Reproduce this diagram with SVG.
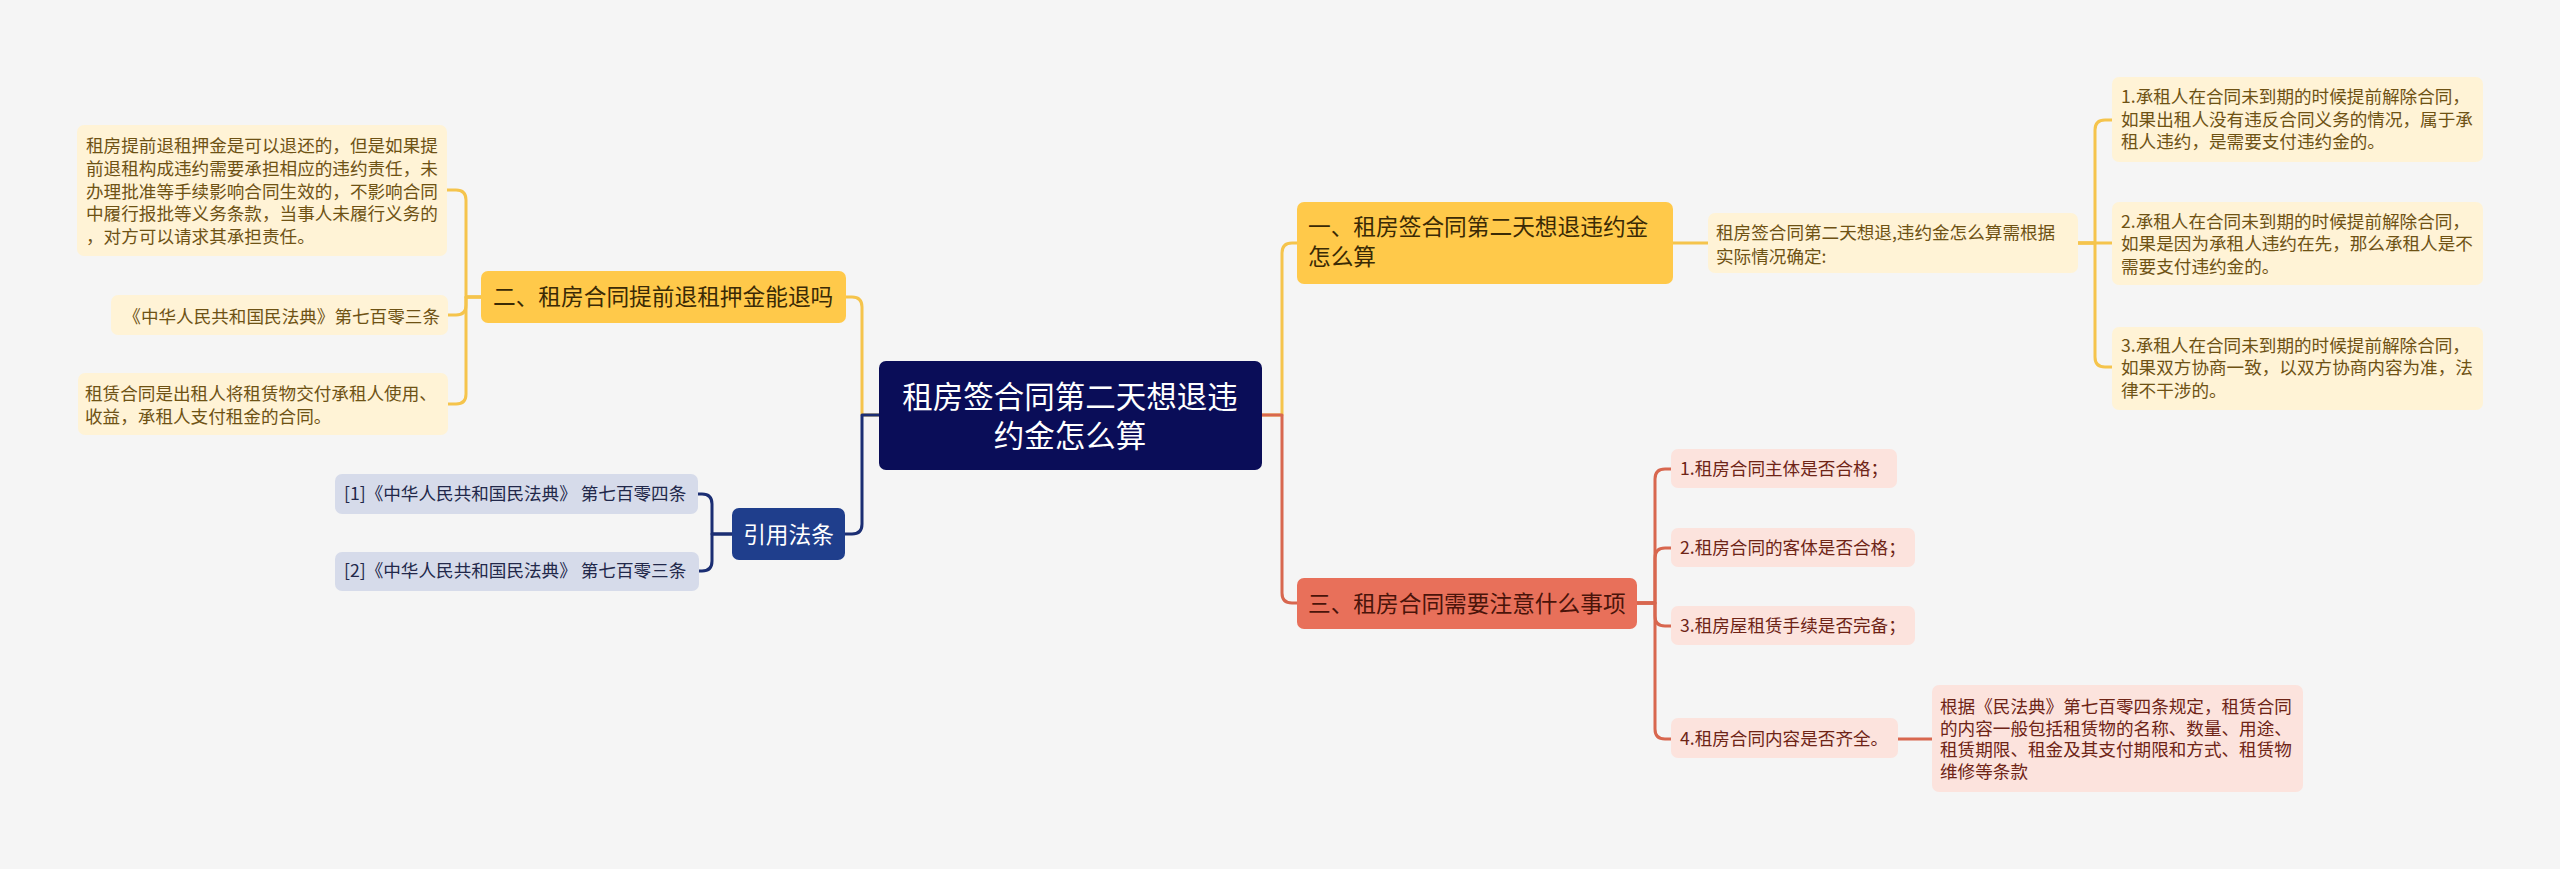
<svg xmlns="http://www.w3.org/2000/svg" width="2560" height="869" viewBox="0 0 2560 869">
<style>
text{font-family:"Noto Sans CJK SC","Noto Sans",sans-serif;}
.c{fill:none;stroke-linecap:round;stroke-linejoin:round;}
.y{stroke:#F5C44C;stroke-width:3;}
.r{stroke:#D8674F;stroke-width:3;}
.n{stroke:#1B2E73;stroke-width:3;}
.yl{fill:#FFF3D6;}
.yt{fill:#6E5214;font-size:17.6px;}
.pl{fill:#FCE3DD;}
.pt{fill:#6E2416;font-size:17.6px;}
.bl{fill:#D6DBEA;}
.bt{fill:#22284A;font-size:17.6px;}
.big{font-size:22.7px;}
</style>
<rect width="2560" height="869" fill="#F5F5F5"/>
<g id="connectors">
<path class="c y" d="M880,415 H862 V307 Q862,297 852,297 H846"/>
<path class="c n" d="M880,415 H862 V524 Q862,534 852,534 H845"/>
<path class="c y" d="M1262,415 H1282 V253 Q1282,243 1292,243 H1297"/>
<path class="c r" d="M1262,415 H1282 V593 Q1282,603 1292,603 H1297"/>
<path class="c y" d="M481,297 H466 V200 Q466,190 456,190 H447"/>
<path class="c y" d="M481,297 H466 V305 Q466,315 456,315 H448"/>
<path class="c y" d="M481,297 H466 V394 Q466,404 456,404 H448"/>
<path class="c n" d="M732,534 H712 V504 Q712,494 702,494 H698"/>
<path class="c n" d="M732,534 H712 V561 Q712,571 702,571 H699"/>
<path class="c y" d="M1673,243 H1708"/>
<path class="c y" d="M2078,243 H2095 V130 Q2095,120 2105,120 H2112"/>
<path class="c y" d="M2078,243 H2112"/>
<path class="c y" d="M2078,243 H2095 V357 Q2095,367 2105,367 H2112"/>
<path class="c r" d="M1637,603 H1655 V479 Q1655,469 1665,469 H1671"/>
<path class="c r" d="M1637,603 H1655 V558 Q1655,548 1665,548 H1671"/>
<path class="c r" d="M1637,603 H1655 V616 Q1655,626 1665,626 H1671"/>
<path class="c r" d="M1637,603 H1655 V729 Q1655,739 1665,739 H1671"/>
<path class="c r" d="M1898,739 H1932"/>
</g>
<g id="root">
<rect x="879" y="361" width="383" height="109" rx="7" fill="#0A0D58"/>
<text x="1070" y="408" text-anchor="middle" fill="#FFFFFF" font-size="30.5">租房签合同第二天想退违</text>
<text x="1070" y="447" text-anchor="middle" fill="#FFFFFF" font-size="30.5">约金怎么算</text>
</g>
<g id="n2">
<rect x="481" y="271" width="365" height="52" rx="7" fill="#FFC94A"/>
<text x="493" y="305" class="big" fill="#3A2A05">二、租房合同提前退租押金能退吗</text>
</g>
<g id="n2a">
<rect x="77" y="125" width="370" height="131" rx="7" class="yl"/>
<text class="yt" x="86" y="152">租房提前退租押金是可以退还的，但是如果提</text>
<text class="yt" x="86" y="175">前退租构成违约需要承担相应的违约责任，未</text>
<text class="yt" x="86" y="198">办理批准等手续影响合同生效的，不影响合同</text>
<text class="yt" x="86" y="220">中履行报批等义务条款，当事人未履行义务的</text>
<text class="yt" x="86" y="243">，对方可以请求其承担责任。</text>
</g>
<g id="n2b">
<rect x="111" y="295" width="337" height="40" rx="7" class="yl"/>
<text class="yt" x="440" y="323" text-anchor="end">《中华人民共和国民法典》第七百零三条</text>
</g>
<g id="n2c">
<rect x="78" y="373" width="370" height="62" rx="7" class="yl"/>
<text class="yt" x="85" y="400">租赁合同是出租人将租赁物交付承租人使用、</text>
<text class="yt" x="85" y="423">收益，承租人支付租金的合同。</text>
</g>
<g id="ref">
<rect x="732" y="508" width="113" height="52" rx="7" fill="#1F3E8C"/>
<text x="788.5" y="543" text-anchor="middle" class="big" fill="#FFFFFF">引用法条</text>
</g>
<g id="ref1">
<rect x="335" y="474" width="363" height="40" rx="7" class="bl"/>
<text class="bt" x="344" y="500">[1]《中华人民共和国民法典》 第七百零四条</text>
</g>
<g id="ref2">
<rect x="335" y="552" width="364" height="39" rx="7" class="bl"/>
<text class="bt" x="344" y="577">[2]《中华人民共和国民法典》 第七百零三条</text>
</g>
<g id="n1">
<rect x="1297" y="202" width="376" height="82" rx="7" fill="#FFC94A"/>
<text x="1308" y="235" class="big" fill="#3A2A05">一、租房签合同第二天想退违约金</text>
<text x="1308" y="265" class="big" fill="#3A2A05">怎么算</text>
</g>
<g id="n1a">
<rect x="1708" y="213" width="370" height="60" rx="7" class="yl"/>
<text class="yt" x="1716" y="239">租房签合同第二天想退,违约金怎么算需根据</text>
<text class="yt" x="1716" y="263">实际情况确定:</text>
</g>
<g id="n1a1">
<rect x="2112" y="77" width="371" height="85" rx="7" class="yl"/>
<text class="yt" x="2121" y="103">1.承租人在合同未到期的时候提前解除合同，</text>
<text class="yt" x="2121" y="126">如果出租人没有违反合同义务的情况，属于承</text>
<text class="yt" x="2121" y="148">租人违约，是需要支付违约金的。</text>
</g>
<g id="n1a2">
<rect x="2112" y="202" width="371" height="83" rx="7" class="yl"/>
<text class="yt" x="2121" y="228">2.承租人在合同未到期的时候提前解除合同，</text>
<text class="yt" x="2121" y="250">如果是因为承租人违约在先，那么承租人是不</text>
<text class="yt" x="2121" y="273">需要支付违约金的。</text>
</g>
<g id="n1a3">
<rect x="2112" y="327" width="371" height="83" rx="7" class="yl"/>
<text class="yt" x="2121" y="352">3.承租人在合同未到期的时候提前解除合同，</text>
<text class="yt" x="2121" y="374">如果双方协商一致，以双方协商内容为准，法</text>
<text class="yt" x="2121" y="397">律不干涉的。</text>
</g>
<g id="n3">
<rect x="1297" y="578" width="340" height="51" rx="7" fill="#E8705A"/>
<text x="1308" y="612" class="big" fill="#4A140A">三、租房合同需要注意什么事项</text>
</g>
<g id="n3a">
<rect x="1671" y="449" width="226" height="39" rx="7" class="pl"/>
<text class="pt" x="1680" y="475">1.租房合同主体是否合格；</text>
</g>
<g id="n3b">
<rect x="1671" y="528" width="244" height="39" rx="7" class="pl"/>
<text class="pt" x="1680" y="554">2.租房合同的客体是否合格；</text>
</g>
<g id="n3c">
<rect x="1671" y="606" width="244" height="39" rx="7" class="pl"/>
<text class="pt" x="1680" y="632">3.租房屋租赁手续是否完备；</text>
</g>
<g id="n3d">
<rect x="1671" y="718" width="227" height="40" rx="7" class="pl"/>
<text class="pt" x="1680" y="745">4.租房合同内容是否齐全。</text>
</g>
<g id="n3d1">
<rect x="1932" y="685" width="371" height="107" rx="7" class="pl"/>
<text class="pt" x="1940" y="713">根据《民法典》第七百零四条规定，租赁合同</text>
<text class="pt" x="1940" y="735">的内容一般包括租赁物的名称、数量、用途、</text>
<text class="pt" x="1940" y="756">租赁期限、租金及其支付期限和方式、租赁物</text>
<text class="pt" x="1940" y="778">维修等条款</text>
</g>
</svg>
